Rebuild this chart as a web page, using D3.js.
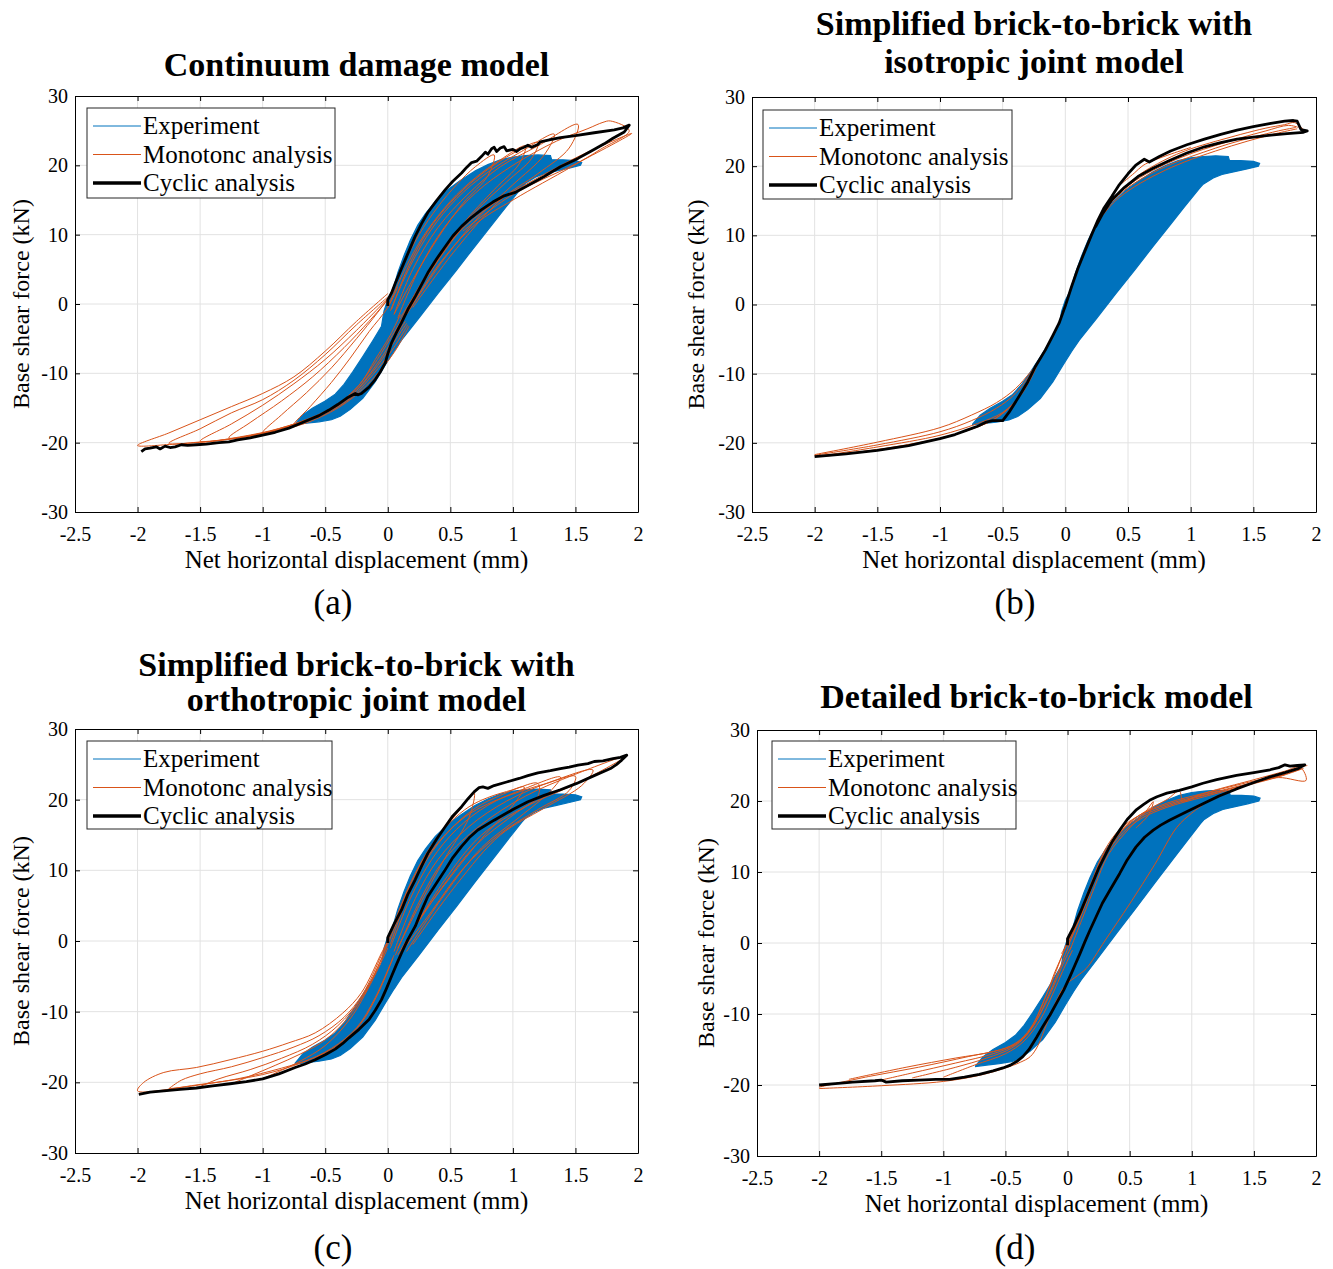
<!DOCTYPE html>
<html>
<head>
<meta charset="utf-8">
<script src="https://cdn.jsdelivr.net/npm/d3@7"></script>
<style>
  body { margin: 0; background: #fff; }
  text { font-family: "Liberation Serif", "Times New Roman", serif; fill: #000; }
</style>
</head>
<body>
<div id="figure"></div>
<script>
// ---- shared tick values / labels ----
const xTicks = [-2.5, -2, -1.5, -1, -0.5, 0, 0.5, 1, 1.5, 2];
const xTickLabels = ["-2.5", "-2", "-1.5", "-1", "-0.5", "0", "0.5", "1", "1.5", "2"];
const yTicks = [-30, -20, -10, 0, 10, 20, 30];
const yTickLabels = ["-30", "-20", "-10", "0", "10", "20", "30"];
const seriesNames = ["Experiment", "Monotonc analysis", "Cyclic analysis"];

// ---- experiment: outline of the dense blue hysteresis band (same test in every panel) ----
const experiment = [
  [-0.74,-17.3],[-0.68,-16.0],[-0.6,-15.0],[-0.5,-14.0],[-0.42,-13.0],[-0.35,-11.6],[-0.28,-9.8],
  [-0.2,-7.6],[-0.12,-5.3],[-0.05,-3.2],[-0.03,-1.0],[0.0,0.6],[0.04,2.0],[0.08,4.5],[0.13,7.0],
  [0.18,9.2],[0.24,11.4],[0.3,13.0],[0.38,14.8],[0.48,16.5],[0.58,17.8],[0.7,19.2],[0.8,20.1],
  [0.9,20.8],[1.0,21.2],[1.1,21.4],[1.2,21.5],[1.3,21.4],[1.31,20.8],[1.4,20.8],[1.5,20.7],
  [1.55,20.4],[1.54,20.0],[1.45,19.6],[1.35,19.2],[1.25,18.8],[1.18,18.3],[1.1,17.4],[1.07,16.8],
  [0.95,14.1],[0.84,11.6],[0.7,8.4],[0.55,4.9],[0.4,1.5],[0.25,-2.0],[0.11,-5.2],[0.05,-6.8],
  [-0.02,-8.8],[-0.1,-11.2],[-0.2,-13.6],[-0.3,-15.2],[-0.38,-16.2],[-0.45,-16.7],[-0.55,-17.0],
  [-0.65,-17.2],[-0.74,-17.4]
];

// ---- (a) continuum damage model ----
const cyclicA = [
  [0,-0.3],[0,0.6],[0.03,1.6],[0.06,3.0],[0.1,4.7],[0.14,6.4],[0.18,8.1],[0.22,9.8],[0.27,11.6],
  [0.32,13.2],[0.39,14.9],[0.46,16.5],[0.52,17.7],[0.59,18.9],[0.63,19.7],[0.67,20.4],[0.71,20.6],
  [0.75,21.3],[0.78,21.9],[0.8,21.6],[0.83,22.4],[0.85,22.6],[0.87,22.0],[0.9,22.5],[0.93,22.7],
  [0.95,22.1],[1.0,22.3],[1.03,22.0],[1.06,22.4],[1.09,22.6],[1.12,22.9],[1.15,22.6],[1.2,23.0],
  [1.22,23.4],[1.3,23.7],[1.38,24.0],[1.5,24.3],[1.65,24.7],[1.81,25.1],[1.88,25.4],[1.93,25.8],
  [1.89,24.8],[1.8,23.9],[1.73,23.1],[1.62,22.0],[1.52,21.0],[1.38,19.8],[1.25,18.4],[1.12,17.1],
  [1.02,16.1],[0.93,15.6],[0.84,14.7],[0.75,13.6],[0.67,12.5],[0.59,11.2],[0.52,9.8],[0.46,8.3],
  [0.39,6.5],[0.32,4.5],[0.27,2.8],[0.22,1.1],[0.16,-0.8],[0.11,-2.7],[0.07,-4.1],[0.03,-5.6],
  [0.0,-7.2],[-0.02,-8.5],[-0.06,-9.8],[-0.1,-10.9],[-0.15,-12.0],[-0.21,-12.9],[-0.24,-13.1],
  [-0.26,-12.9],[-0.29,-13.2],[-0.33,-13.6],[-0.4,-14.5],[-0.47,-15.3],[-0.55,-16.1],[-0.63,-16.7],
  [-0.71,-17.3],[-0.79,-17.9],[-0.9,-18.5],[-1.0,-18.9],[-1.1,-19.3],[-1.2,-19.6],[-1.27,-19.9],
  [-1.35,-20.0],[-1.45,-20.2],[-1.53,-20.3],[-1.6,-20.4],[-1.65,-20.3],[-1.7,-20.6],[-1.74,-20.7],
  [-1.78,-20.5],[-1.82,-20.9],[-1.85,-20.6],[-1.9,-20.8],[-1.94,-20.9],[-1.97,-21.3]
];
const monotonicA = [
  [[0.0,0.5],[0.12,5.5],[0.25,10],[0.4,14],[0.55,17.2],[0.7,19.8],[0.85,21.5],[0.8,18.5],[0.6,14.5],[0.4,9.5],[0.2,3.5],[0.05,-1.5]],
  [[0.0,-0.5],[0.15,5.5],[0.3,10.2],[0.5,14.8],[0.7,18.2],[0.9,20.8],[1.1,22.8],[1.05,20.2],[0.85,16.5],[0.6,11.5],[0.35,5],[0.1,-2]],
  [[0.03,-0.8],[0.16,5.2],[0.32,10.5],[0.5,14.6],[0.72,18.3],[0.95,21.2],[1.2,23.3],[1.15,21.0],[0.95,17.6],[0.7,13.3],[0.45,7.5],[0.18,0.2]],
  [[0.02,-1],[0.18,5.5],[0.35,10.8],[0.55,15.2],[0.8,19],[1.05,21.8],[1.33,24.5],[1.25,21.5],[1.0,17.2],[0.75,13],[0.45,6.5],[0.15,-1.5]],
  [[0.05,-1.5],[0.2,5],[0.4,11],[0.65,16],[0.9,19.8],[1.2,22.8],[1.52,25.9],[1.45,22.5],[1.2,18.8],[0.9,15],[0.55,8],[0.2,-0.5]],
  [[0.08,-2],[0.25,5],[0.45,11],[0.7,16],[1.0,20],[1.35,23.5],[1.6,25.3],[1.72,26.2],[1.78,26.4],[1.93,25.0],[1.7,22.3],[1.46,19.7],[1.01,15.1],[0.7,11.5],[0.4,5.5],[0.15,-1.5]],
  [[0.1,-2.5],[0.3,4],[0.55,10],[0.85,14.5],[1.2,18.2],[1.55,21.5],[1.95,24.6],[1.5,20.2],[1.0,15.8],[0.6,10.5]],
  [[0.1,-1.5],[0.02,-4.5],[-0.1,-8],[-0.22,-11.5],[-0.38,-14.2],[-0.55,-16.0],[-0.75,-17.4],[-0.62,-14.8],[-0.45,-11.3],[-0.3,-7.8],[-0.15,-4.0],[0.0,-0.5],[0.08,2.5]],
  [[0.12,-2],[0.02,-5],[-0.12,-9],[-0.27,-12.5],[-0.45,-15.0],[-0.7,-17.0],[-1.0,-18.6],[-0.85,-16.0],[-0.65,-12.8],[-0.45,-9.2],[-0.25,-5.0],[-0.08,-1.2],[0.05,2.0]],
  [[0.14,-2.5],[0.03,-5.5],[-0.1,-9],[-0.28,-13],[-0.5,-15.6],[-0.8,-17.6],[-1.05,-18.8],[-1.27,-19.3],[-1.1,-17.1],[-0.85,-14.0],[-0.6,-10.5],[-0.35,-6.3],[-0.15,-2.5],[0.02,1.0]],
  [[0.15,-2.8],[0.03,-6],[-0.12,-9.8],[-0.3,-13.3],[-0.5,-15.7],[-0.8,-17.6],[-1.1,-18.9],[-1.5,-19.8],[-1.25,-17.3],[-1.0,-14.6],[-0.75,-11.5],[-0.5,-8],[-0.25,-3.8],[0.0,0.8]],
  [[0.16,-3],[0.04,-6.5],[-0.12,-10.2],[-0.3,-13.6],[-0.55,-16.2],[-0.85,-18.0],[-1.2,-19.3],[-1.5,-19.9],[-1.75,-20.1],[-1.5,-18.0],[-1.25,-15.7],[-1.0,-13.8],[-0.75,-11.0],[-0.5,-7.3],[-0.25,-3.0],[0,1.0]],
  [[0.17,-3.2],[0.05,-7],[-0.12,-10.8],[-0.33,-14.2],[-0.6,-16.8],[-0.9,-18.4],[-1.3,-19.6],[-1.7,-20.2],[-2.0,-20.4],[-1.75,-18.6],[-1.5,-16.7],[-1.25,-14.8],[-1.0,-12.9],[-0.75,-10.5],[-0.5,-6.8],[-0.25,-2.5],[0.0,1.5]]
];

// ---- (b) simplified brick-to-brick, isotropic joint ----
const cyclicB = [
  [-2.0,-22.0],[-1.75,-21.6],[-1.5,-21.1],[-1.25,-20.4],[-1.0,-19.4],[-0.88,-18.8],[-0.79,-18.2],
  [-0.7,-17.6],[-0.63,-17.0],[-0.58,-16.8],[-0.5,-16.8],[-0.45,-15.6],[-0.37,-13.3],[-0.3,-11.2],
  [-0.24,-9.0],[-0.16,-6.6],[-0.1,-4.5],[-0.05,-2.7],[0.0,-0.2],[0.05,2.6],[0.1,5.2],[0.16,7.9],
  [0.21,10.1],[0.26,12.2],[0.31,14.0],[0.37,15.6],[0.43,17.3],[0.5,18.9],[0.56,20.1],[0.63,21.0],
  [0.67,20.6],[0.75,21.4],[0.84,22.2],[0.97,23.1],[1.11,23.9],[1.24,24.6],[1.37,25.2],[1.5,25.7],
  [1.64,26.2],[1.75,26.5],[1.82,26.6],[1.85,26.5],[1.88,25.3],[1.93,25.1],[1.9,24.9],[1.77,24.7],
  [1.64,24.5],[1.5,24.2],[1.37,23.9],[1.24,23.4],[1.11,22.8],[0.97,21.9],[0.84,20.9],[0.7,19.7],
  [0.58,18.5],[0.47,16.9],[0.37,15.1],[0.3,13.2],[0.24,11.2]
];
const monotonicB = [
  [[0.24,11.2],[0.32,13.8],[0.4,15.6],[0.5,17.4],[0.6,18.9],[0.7,20.0],[0.85,21.4],[1.0,22.5],[1.2,23.6],[1.4,24.6],[1.6,25.5],[1.75,26.0],[1.83,26.3],[1.9,25.3]],
  [[0.24,11.2],[0.33,14.0],[0.45,16.4],[0.6,18.4],[0.8,20.3],[1.0,21.8],[1.2,23.0],[1.4,24.1],[1.6,25.1],[1.78,25.9],[1.86,25.6]],
  [[0.26,11.8],[0.36,14.6],[0.5,16.9],[0.7,19.1],[0.9,20.7],[1.1,22.0],[1.3,23.2],[1.5,24.2],[1.7,25.1],[1.84,25.6]],
  [[0.28,12.5],[0.4,15.0],[0.55,17.0],[0.75,19.0],[0.95,20.6],[1.2,22.2],[1.45,23.6],[1.7,24.8],[1.85,25.4]],
  [[0.45,17.5],[0.55,19.0],[0.62,20.1],[0.7,20.8],[0.85,21.8],[1.0,22.7]],
  [[-2.0,-21.7],[-1.5,-19.9],[-1.0,-17.8],[-0.75,-16.0],[-0.55,-14.2],[-0.4,-12.2],[-0.28,-9.8],[-0.22,-8.5]],
  [[-2.0,-21.8],[-1.5,-20.3],[-1.0,-18.4],[-0.75,-16.8],[-0.55,-15.0],[-0.4,-12.9],[-0.25,-9.3]],
  [[-1.95,-21.9],[-1.5,-20.6],[-1.0,-18.9],[-0.7,-17.2],[-0.5,-15.6],[-0.35,-13.0],[-0.24,-9.2]],
  [[-1.9,-21.9],[-1.4,-20.7],[-0.95,-19.1],[-0.7,-17.7],[-0.55,-16.4],[-0.4,-14.0],[-0.25,-9.5]],
  [[-2.0,-21.9],[-1.5,-21.0],[-1.0,-19.4],[-0.75,-18.0],[-0.6,-16.9],[-0.45,-15.0],[-0.3,-11.5],[-0.23,-9.0]]
];

// ---- (c) simplified brick-to-brick, orthotropic joint ----
const cyclicC = [
  [0,-0.3],[0,0.5],[0.05,2.4],[0.11,4.4],[0.16,6.6],[0.22,8.7],[0.27,10.6],[0.32,12.4],[0.39,14.4],
  [0.46,16.2],[0.52,17.7],[0.59,19.0],[0.64,20.1],[0.69,21.1],[0.73,21.7],[0.76,21.8],[0.8,21.6],
  [0.85,22.0],[0.95,22.5],[1.05,23.0],[1.12,23.4],[1.2,23.8],[1.3,24.1],[1.38,24.4],[1.45,24.6],
  [1.52,24.9],[1.6,25.1],[1.65,25.4],[1.72,25.5],[1.8,25.8],[1.86,26.0],[1.91,26.3],[1.87,25.6],
  [1.83,25.0],[1.78,24.4],[1.65,23.4],[1.51,22.3],[1.38,21.4],[1.25,20.6],[1.12,19.7],[1.0,18.6],
  [0.85,17.1],[0.72,15.7],[0.65,14.6],[0.59,13.4],[0.52,11.8],[0.46,10.1],[0.39,8.2],[0.32,6.3],
  [0.27,4.3],[0.22,2.1],[0.16,0.2],[0.11,-1.7],[0.07,-3.3],[0.03,-5.0],[-0.01,-6.7],[-0.05,-8.3],
  [-0.1,-9.8],[-0.15,-11.1],[-0.23,-12.5],[-0.31,-13.7],[-0.36,-14.5],[-0.42,-15.3],[-0.5,-16.1],
  [-0.58,-16.8],[-0.66,-17.4],[-0.74,-17.9],[-0.87,-18.8],[-1.0,-19.5],[-1.13,-19.9],[-1.26,-20.2],
  [-1.4,-20.5],[-1.53,-20.8],[-1.66,-21.0],[-1.79,-21.2],[-1.9,-21.4],[-1.99,-21.7]
];
const monotonicC = [
  [[0,0],[0.12,5.5],[0.25,10.5],[0.4,14.8],[0.55,18],[0.69,21.0],[0.65,17.5],[0.45,11.5],[0.25,5],[0.08,-1]],
  [[0,0],[0.1,4.8],[0.22,9.6],[0.36,13.8],[0.5,16.8],[0.65,19.0],[0.8,20.3],[1.0,21.4],[1.2,22.3],[1.2,20.5],[1.0,17.8],[0.7,13.5],[0.45,8],[0.2,1.5]],
  [[0,-0.5],[0.15,6],[0.3,11.5],[0.5,15.8],[0.7,18.8],[0.9,20.6],[1.09,21.8],[1.0,19.2],[0.75,14.5],[0.5,9],[0.25,3],[0.08,-2]],
  [[0.02,-0.5],[0.14,5.4],[0.28,10.6],[0.45,14.8],[0.62,17.6],[0.8,19.4],[1.0,20.8],[1.25,22.2],[1.5,23.3],[1.45,21.3],[1.2,18.6],[0.9,15.2],[0.6,10.2],[0.35,4.2],[0.1,-1.8]],
  [[0.02,-1],[0.18,6],[0.35,11.5],[0.55,15.8],[0.8,19.2],[1.1,21.6],[1.38,23.2],[1.3,21.2],[1.05,17.5],[0.75,13.2],[0.45,6.5],[0.15,-1.5]],
  [[0.05,-1.5],[0.22,6],[0.4,11.5],[0.65,16.2],[0.95,19.8],[1.3,22.5],[1.64,24.2],[1.55,22],[1.25,18.8],[0.9,15],[0.55,8],[0.2,-0.5]],
  [[0.06,-2],[0.25,5.5],[0.45,11.5],[0.75,16.5],[1.1,20.5],[1.5,23.6],[1.91,26.2],[1.75,24.5],[1.45,21.8],[1.1,19],[0.75,15],[0.45,8.5],[0.15,0]],
  [[0.05,-2],[-0.1,-8],[-0.25,-12.3],[-0.45,-15.2],[-0.7,-17.3],[-1.0,-18.9],[-1.5,-20.3],[-2.0,-21.2],[-1.95,-20.0],[-1.79,-18.6],[-1.53,-17.9],[-1.26,-16.8],[-1.0,-15.6],[-0.79,-14.4],[-0.58,-13.0],[-0.36,-10.2],[-0.21,-7.3],[-0.05,-1.7],[0,0]],
  [[-1.75,-20.9],[-1.65,-19.7],[-1.5,-18.8],[-1.25,-17.8],[-1.0,-16.5],[-0.75,-15.0],[-0.55,-13.4],[-0.35,-10.8],[-0.2,-7.5],[-0.05,-2],[0,0]],
  [[-1.5,-20.6],[-1.35,-19.5],[-1.1,-18.2],[-0.85,-16.6],[-0.6,-14.6],[-0.4,-12],[-0.2,-7.8],[-0.05,-2.5],[0,0]],
  [[-1.25,-20.2],[-1.1,-19.1],[-0.9,-17.6],[-0.7,-16.0],[-0.5,-14.0],[-0.3,-10.5],[-0.15,-6.2],[0,-0.5]],
  [[-1.0,-19.5],[-0.85,-18.3],[-0.7,-17.0],[-0.5,-14.8],[-0.3,-11],[-0.15,-6.5],[0,-1]],
  [[0.04,-2.5],[-0.08,-7.5],[-0.22,-11.8],[-0.4,-14.8],[-0.6,-16.6],[-0.85,-18.0],[-1.2,-19.5],[-1.6,-20.6],[-1.75,-20.9]]
];

// ---- (d) detailed brick-to-brick ----
const cyclicD = [
  [0,-0.3],[0,0.6],[0.05,2.3],[0.1,4.2],[0.15,6.3],[0.2,8.4],[0.25,10.5],[0.31,12.6],[0.36,14.3],
  [0.42,15.9],[0.48,17.4],[0.55,18.7],[0.61,19.5],[0.66,20.1],[0.72,20.6],[0.8,21.1],[0.9,21.5],
  [1.0,22.0],[1.09,22.5],[1.2,23.0],[1.36,23.6],[1.5,24.0],[1.63,24.4],[1.7,24.7],[1.75,25.1],
  [1.79,24.9],[1.85,25.0],[1.91,25.1],[1.86,24.6],[1.75,24.0],[1.63,23.4],[1.5,22.6],[1.36,21.7],
  [1.22,20.7],[1.09,19.6],[0.95,18.4],[0.82,17.3],[0.75,16.6],[0.69,15.9],[0.62,14.9],[0.55,13.5],
  [0.48,11.7],[0.42,9.8],[0.35,7.7],[0.28,5.6],[0.23,3.7],[0.18,1.8],[0.14,0.2],[0.1,-1.5],
  [0.06,-3.1],[0.02,-4.7],[-0.03,-6.6],[-0.09,-8.5],[-0.14,-10.1],[-0.2,-11.8],[-0.25,-13.3],
  [-0.31,-15.0],[-0.36,-16.0],[-0.41,-16.7],[-0.46,-17.2],[-0.52,-17.6],[-0.6,-18.0],[-0.71,-18.5],
  [-0.83,-18.9],[-0.95,-19.2],[-1.06,-19.2],[-1.2,-19.3],[-1.33,-19.4],[-1.46,-19.6],[-1.5,-19.3],
  [-1.55,-19.4],[-1.73,-19.6],[-1.87,-19.8],[-2.0,-20.0]
];
const monotonicD = [
  [[-2.0,-20.5],[-1.5,-20.1],[-1.0,-19.5],[-0.7,-18.6],[-0.5,-17.6],[-0.38,-16.8],[-0.3,-16.0],[-0.24,-14.5],[-0.17,-11.5],[-0.1,-8.5],[-0.02,-6.0],[0.08,-4.6],[0.15,-3.6],[0.3,0.3],[0.5,5.5],[0.7,11.0],[0.88,16.3],[1.0,18.3],[1.1,19.6]],
  [[0,0.3],[-0.05,-2],[-0.1,-4],[-0.16,-6.8],[-0.24,-10.2],[-0.32,-12.6],[-0.42,-14.2],[-0.6,-15.3],[-0.9,-16.2],[-1.3,-17.5],[-1.76,-19.2]],
  [[0,0],[-0.06,-2.5],[-0.12,-5.2],[-0.2,-8.5],[-0.28,-11.5],[-0.38,-13.6],[-0.5,-14.8],[-0.8,-16.0],[-1.2,-17.5],[-1.6,-18.8],[-2.0,-20.3]],
  [[0.02,0],[-0.05,-3],[-0.12,-6],[-0.2,-9.2],[-0.3,-12.3],[-0.42,-14.3],[-0.6,-15.6],[-0.9,-16.9],[-1.25,-18.3],[-1.5,-19.3]],
  [[0.03,-0.5],[-0.05,-3.5],[-0.13,-6.8],[-0.22,-10],[-0.33,-13],[-0.45,-14.8],[-0.65,-16.2],[-0.9,-17.5],[-1.25,-19]],
  [[0.04,-1],[-0.04,-4],[-0.12,-7.2],[-0.22,-10.8],[-0.35,-13.8],[-0.5,-15.6],[-0.75,-17.2],[-1.0,-18.9]],
  [[-0.05,-1.5],[0,0],[0.1,4],[0.2,8.6],[0.3,12.8],[0.45,16.2],[0.6,18.2],[0.8,19.7],[1.1,21.1],[1.4,22.4],[1.7,23.7],[1.85,24.7],[1.93,25.0]],
  [[0,0.2],[0.1,4.3],[0.2,8.9],[0.3,13.1],[0.42,16.0],[0.58,18.0],[0.8,19.5],[1.1,20.9],[1.4,22.2],[1.7,23.5],[1.88,24.5]],
  [[0.01,-0.2],[0.11,4.0],[0.21,8.5],[0.31,12.6],[0.44,15.8],[0.6,17.9],[0.82,19.4],[1.1,20.8],[1.4,22.1],[1.75,23.7]],
  [[0,-0.5],[0.1,3.5],[0.2,8.0],[0.3,12.2],[0.45,15.6],[0.6,17.6],[0.8,19.1],[1.1,20.6],[1.4,22.0],[1.7,23.4],[1.9,24.6]],
  [[0.02,-1],[0.12,3.5],[0.22,8.0],[0.33,12.5],[0.5,16.2],[0.62,18.3],[0.69,19.9],[0.65,18.0],[0.55,16.2]],
  [[0.0,0],[0.15,6],[0.3,12.3],[0.48,16.6],[0.65,18.8],[0.8,20.2],[0.9,21.4],[0.93,20.0],[1.05,20.8],[1.2,21.6],[1.5,23.0],[1.75,24.2],[1.87,24.8],[1.92,22.9],[1.7,23.3],[1.5,22.6]]
];

// ---- colours ----
const colors = {
  experiment: "#0072BD",
  monotonic: "#D95319",
  cyclic: "#000000",
  grid: "#e2e2e2"
};

// ---- panel layout ----
const panels = [
  { left: 75, right: 638, top: 96, bottom: 512, title: ["Continuum damage model"], titleY: [76],
    ylabelX: 22, xlabelY: 568, cap: "(a)", capX: 333, capY: 614,
    legend: { x: 87, y: 108, w: 248, h: 90 }, cyclic: cyclicA, mono: monotonicA },
  { left: 752, right: 1316, top: 97, bottom: 512, title: ["Simplified brick-to-brick with", "isotropic joint model"], titleY: [35, 73],
    ylabelX: 697, xlabelY: 568, cap: "(b)", capX: 1015, capY: 614,
    legend: { x: 763, y: 110, w: 249, h: 89 }, cyclic: cyclicB, mono: monotonicB },
  { left: 75, right: 638, top: 729, bottom: 1153, title: ["Simplified brick-to-brick with", "orthotropic joint model"], titleY: [676, 711],
    ylabelX: 22, xlabelY: 1209, cap: "(c)", capX: 333, capY: 1259,
    legend: { x: 87, y: 741, w: 245, h: 88 }, cyclic: cyclicC, mono: monotonicC },
  { left: 757, right: 1316, top: 730, bottom: 1156, title: ["Detailed brick-to-brick model"], titleY: [708],
    ylabelX: 707, xlabelY: 1212, cap: "(d)", capX: 1015, capY: 1259,
    legend: { x: 772, y: 741, w: 244, h: 88 }, cyclic: cyclicD, mono: monotonicD }
];

const svg = d3.select("#figure").append("svg")
    .attr("width", 1333)
    .attr("height", 1269);

panels.forEach((p, i) => drawPanel(p, i));

function drawPanel(p, idx) {
  const x = d3.scaleLinear().domain([-2.5, 2]).range([p.left, p.right]);
  const y = d3.scaleLinear().domain([-30, 30]).range([p.bottom, p.top]);
  const g = svg.append("g");

  // grid
  g.append("g").selectAll("line").data(xTicks.slice(1, -1)).enter().append("line")
      .attr("x1", d => x(d)).attr("x2", d => x(d))
      .attr("y1", p.top).attr("y2", p.bottom)
      .attr("stroke", colors.grid).attr("stroke-width", 1);
  g.append("g").selectAll("line").data(yTicks.slice(1, -1)).enter().append("line")
      .attr("x1", p.left).attr("x2", p.right)
      .attr("y1", d => y(d)).attr("y2", d => y(d))
      .attr("stroke", colors.grid).attr("stroke-width", 1);

  // clip to axes box
  svg.append("clipPath").attr("id", "clip" + idx)
    .append("rect")
      .attr("x", p.left).attr("y", p.top)
      .attr("width", p.right - p.left).attr("height", p.bottom - p.top);
  const plot = g.append("g").attr("clip-path", `url(#clip${idx})`);

  const smooth = d3.line().x(d => x(d[0])).y(d => y(d[1])).curve(d3.curveCatmullRom.alpha(0.5));
  const straight = d3.line().x(d => x(d[0])).y(d => y(d[1]));

  // experiment band
  plot.append("path")
      .datum(experiment)
      .attr("d", d3.line().x(d => x(d[0])).y(d => y(d[1])).curve(d3.curveLinearClosed))
      .attr("fill", colors.experiment)
      .attr("stroke", colors.experiment)
      .attr("stroke-width", 1.2);

  // monotonic loops
  plot.append("g").selectAll("path").data(p.mono).enter().append("path")
      .attr("d", smooth)
      .attr("fill", "none")
      .attr("stroke", colors.monotonic)
      .attr("stroke-width", 1);

  // cyclic analysis
  plot.append("path")
      .datum(p.cyclic)
      .attr("d", straight)
      .attr("fill", "none")
      .attr("stroke", colors.cyclic)
      .attr("stroke-width", 2.8)
      .attr("stroke-linejoin", "round");

  // axes, ticks inside on all four sides
  const fmtX = (d, i) => xTickLabels[i];
  const fmtY = (d, i) => yTickLabels[i];
  const styleAxis = sel => {
    sel.attr("font-family", "Liberation Serif, Times New Roman, serif").attr("font-size", 20);
    sel.select(".domain").attr("stroke", "#000").attr("stroke-width", 1);
    sel.selectAll(".tick line").attr("stroke", "#000");
    sel.selectAll(".tick text").attr("fill", "#000");
  };
  g.append("g").attr("transform", `translate(0,${p.bottom})`)
      .call(d3.axisBottom(x).tickValues(xTicks).tickFormat(fmtX).tickSizeInner(-5).tickSizeOuter(0).tickPadding(15))
      .call(styleAxis);
  g.append("g").attr("transform", `translate(${p.left},0)`)
      .call(d3.axisLeft(y).tickValues(yTicks).tickFormat(fmtY).tickSizeInner(-5).tickSizeOuter(0).tickPadding(7))
      .call(styleAxis);
  g.append("g").attr("transform", `translate(0,${p.top})`)
      .call(d3.axisTop(x).tickValues(xTicks).tickFormat("").tickSizeInner(-5).tickSizeOuter(0))
      .call(styleAxis);
  g.append("g").attr("transform", `translate(${p.right},0)`)
      .call(d3.axisRight(y).tickValues(yTicks).tickFormat("").tickSizeInner(-5).tickSizeOuter(0))
      .call(styleAxis);

  // titles and labels
  const cx = (p.left + p.right) / 2;
  p.title.forEach((t, k) => {
    g.append("text")
        .attr("x", cx).attr("y", p.titleY[k])
        .attr("text-anchor", "middle")
        .attr("font-size", 34).attr("font-weight", "bold")
        .text(t);
  });
  g.append("text")
      .attr("x", cx).attr("y", p.xlabelY)
      .attr("text-anchor", "middle").attr("font-size", 25)
      .text("Net horizontal displacement (mm)");
  g.append("text")
      .attr("transform", `translate(${p.ylabelX + 7},${(p.top + p.bottom) / 2}) rotate(-90)`)
      .attr("text-anchor", "middle").attr("font-size", 24)
      .text("Base shear force (kN)");
  g.append("text")
      .attr("x", p.capX).attr("y", p.capY)
      .attr("text-anchor", "middle").attr("font-size", 35)
      .text(p.cap);

  // legend
  const L = p.legend;
  const lg = g.append("g");
  lg.append("rect")
      .attr("x", L.x).attr("y", L.y).attr("width", L.w).attr("height", L.h)
      .attr("fill", "#fff").attr("stroke", "#262626").attr("stroke-width", 1);
  const legendStyle = [
    { color: colors.experiment, width: 1 },
    { color: colors.monotonic, width: 1 },
    { color: colors.cyclic, width: 3.5 }
  ];
  seriesNames.forEach((name, k) => {
    const ry = L.y + 18 + k * 28.5;
    lg.append("line")
        .attr("x1", L.x + 6).attr("x2", L.x + 54)
        .attr("y1", ry).attr("y2", ry)
        .attr("stroke", legendStyle[k].color).attr("stroke-width", legendStyle[k].width);
    lg.append("text")
        .attr("x", L.x + 56).attr("y", ry + 8)
        .attr("font-size", 25)
        .text(name);
  });
}
</script>
</body>
</html>
